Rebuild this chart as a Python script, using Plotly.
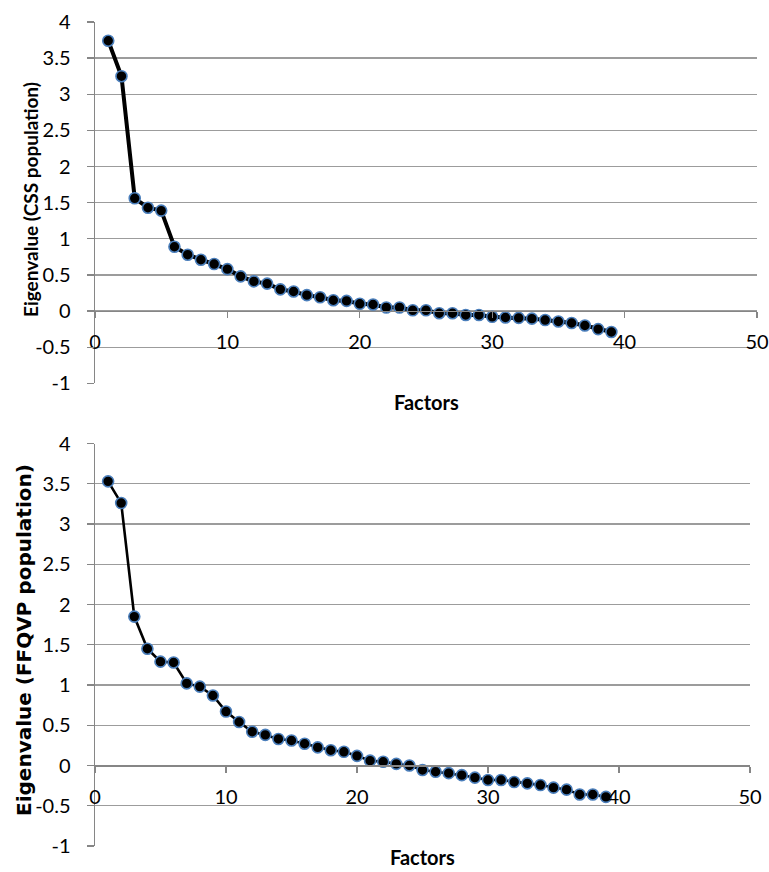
import plotly.graph_objects as go

factors = list(range(1, 40))

css_eigen = [3.74, 3.25, 1.56, 1.43, 1.39, 0.89, 0.78, 0.71, 0.65, 0.58,
             0.48, 0.41, 0.38, 0.30, 0.27, 0.22, 0.19, 0.15, 0.14, 0.10,
             0.09, 0.05, 0.05, 0.01, 0.01, -0.03, -0.03, -0.055, -0.055, -0.08,
             -0.09, -0.095, -0.105, -0.125, -0.145, -0.165, -0.20, -0.25, -0.29]

ffqvp_eigen = [3.53, 3.26, 1.85, 1.45, 1.29, 1.28, 1.02, 0.98, 0.87, 0.67,
               0.54, 0.42, 0.38, 0.33, 0.31, 0.27, 0.225, 0.19, 0.17, 0.12,
               0.06, 0.046, 0.02, 0.00, -0.056, -0.078, -0.095, -0.12, -0.15, -0.18,
               -0.18, -0.205, -0.222, -0.243, -0.275, -0.30, -0.36, -0.36, -0.39]

y_ticks = [4, 3.5, 3, 2.5, 2, 1.5, 1, 0.5, 0, -0.5, -1]
x_ticks = [0, 10, 20, 30, 40, 50]

W, H = 769, 872
FONT = "Lato"
GRID = "#9c9c9c"
AXIS = "#868686"
MARKER_EDGE = "#4a7ebb"

fig = go.Figure()

fig.add_trace(go.Scatter(
    x=factors, y=css_eigen, mode="lines+markers", xaxis="x", yaxis="y",
    line=dict(color="black", width=4),
    marker=dict(color="black", size=11, line=dict(color=MARKER_EDGE, width=1.6)),
    showlegend=False, cliponaxis=False, hoverinfo="skip"))

fig.add_trace(go.Scatter(
    x=factors, y=ffqvp_eigen, mode="lines+markers", xaxis="x2", yaxis="y2",
    line=dict(color="black", width=2.6),
    marker=dict(color="black", size=11, line=dict(color=MARKER_EDGE, width=1.6)),
    showlegend=False, cliponaxis=False, hoverinfo="skip"))


def px_x(p):
    return p / W


def px_y(p):
    return 1 - p / H


top_dom = [px_y(383.3), px_y(22)]
bot_dom = [px_y(846), px_y(443.5)]


def yax(domain, anchor, size):
    return dict(domain=domain, anchor=anchor, range=[-1, 4],
                tickvals=y_ticks, ticktext=[("%g" % v) for v in y_ticks],
                showgrid=True, gridcolor=GRID, gridwidth=1.3,
                zeroline=False, showline=True, linecolor=AXIS, linewidth=1.5,
                ticks="outside", ticklen=7, tickcolor=AXIS, tickwidth=1.3,
                tickfont=dict(family=FONT, size=size, color="black"),
                ticklabelstandoff=12, fixedrange=True)


def xax(domain, pos, size):
    return dict(domain=domain, anchor="free", position=pos, range=[0, 50],
                tickvals=x_ticks, showgrid=False, zeroline=False,
                showline=True, linecolor=AXIS, linewidth=1.5,
                ticks="outside", ticklen=6, tickcolor=AXIS, tickwidth=1.3,
                tickfont=dict(family=FONT, size=size, color="black"),
                ticklabelstandoff=7, fixedrange=True)


fig.update_layout(
    width=W, height=H,
    margin=dict(l=0, r=0, t=0, b=0, autoexpand=False),
    paper_bgcolor="white", plot_bgcolor="white",
    hovermode=False,
    xaxis=xax([px_x(95), px_x(757)], px_y(310.7), 20),
    yaxis=yax(top_dom, "x", 20),
    xaxis2=xax([px_x(95), px_x(750)], px_y(765.3), 20),
    yaxis2=yax(bot_dom, "x2", 20),
    annotations=[
        dict(text="<b>Factors</b>", x=px_x(426), y=px_y(401.5), xref="paper", yref="paper",
             showarrow=False, font=dict(family=FONT, size=20, color="black"),
             xanchor="center", yanchor="middle"),
        dict(text="<b>Eigenvalue (CSS population)</b>", x=px_x(31), y=px_y(200),
             xref="paper", yref="paper", textangle=-90, showarrow=False,
             font=dict(family=FONT, size=19, color="black"),
             xanchor="center", yanchor="middle"),
        dict(text="<b>Factors</b>", x=px_x(422.5), y=px_y(857), xref="paper", yref="paper",
             showarrow=False, font=dict(family=FONT, size=20, color="black"),
             xanchor="center", yanchor="middle"),
        dict(text="<b>Eigenvalue (FFQVP population)</b>", x=px_x(24), y=px_y(640),
             xref="paper", yref="paper", textangle=-90, showarrow=False,
             font=dict(family="DejaVu Sans", size=20, color="black"),
             xanchor="center", yanchor="middle"),
    ],
)

fig.write_html("out.html",
               config={"displayModeBar": False, "staticPlot": True},
               post_script="document.body.style.margin='0';document.body.style.overflow='hidden';")
